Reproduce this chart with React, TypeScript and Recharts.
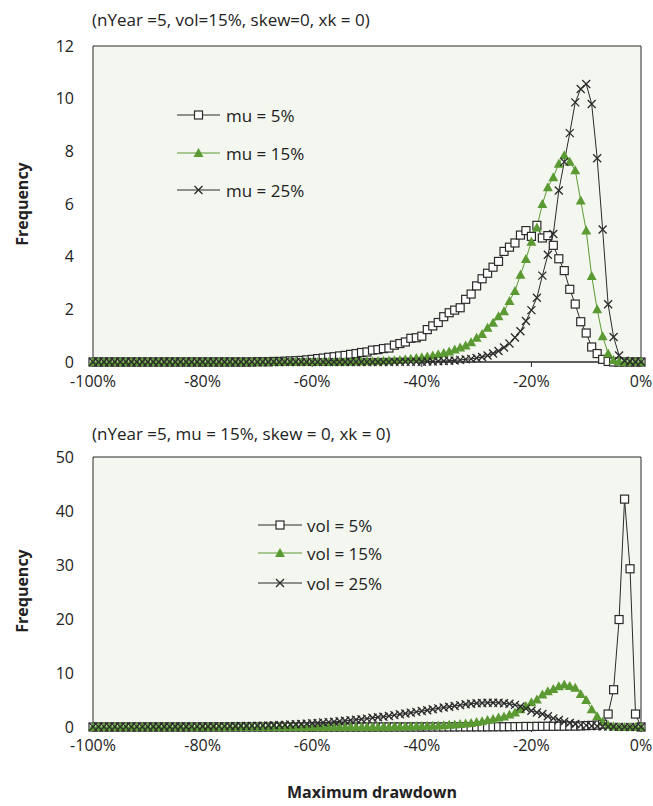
import React from 'react';
import { LineChart, Line, XAxis, YAxis, ReferenceArea } from 'recharts';

// Maximum drawdown categories (%), -100 .. 0 in 1% buckets
const drawdown = [
  -100, -99, -98, -97, -96, -95, -94, -93, -92, -91,
  -90, -89, -88, -87, -86, -85, -84, -83, -82, -81,
  -80, -79, -78, -77, -76, -75, -74, -73, -72, -71,
  -70, -69, -68, -67, -66, -65, -64, -63, -62, -61,
  -60, -59, -58, -57, -56, -55, -54, -53, -52, -51,
  -50, -49, -48, -47, -46, -45, -44, -43, -42, -41,
  -40, -39, -38, -37, -36, -35, -34, -33, -32, -31,
  -30, -29, -28, -27, -26, -25, -24, -23, -22, -21,
  -20, -19, -18, -17, -16, -15, -14, -13, -12, -11,
  -10, -9, -8, -7, -6, -5, -4, -3, -2, -1, 0,
];

// Top panel: nYear=5, vol=15%
const mu5 = [
  0, 0, 0, 0, 0, 0, 0, 0, 0, 0,
  0, 0, 0, 0, 0, 0, 0, 0, 0, 0,
  0, 0, 0, 0, 0, 0, 0, 0, 0, 0,
  0.01, 0.01, 0.01, 0.02, 0.02, 0.03, 0.04, 0.05, 0.06, 0.08,
  0.1, 0.13, 0.15, 0.18, 0.2, 0.23, 0.25, 0.29, 0.32, 0.36,
  0.38, 0.45, 0.47, 0.51, 0.53, 0.64, 0.7, 0.76, 0.9, 0.92,
  0.98, 1.23, 1.37, 1.5, 1.72, 1.87, 1.97, 2.06, 2.38, 2.58,
  2.89, 3.16, 3.37, 3.6, 3.82, 4.2, 4.36, 4.52, 4.82, 4.99,
  4.77, 5.19, 4.71, 4.8, 4.43, 3.92, 3.47, 2.76, 2.2, 1.53,
  1.1, 0.57, 0.32, 0.1, 0.02, 0, 0, 0, 0, 0, 0,
];
const mu15 = [
  0, 0, 0, 0, 0, 0, 0, 0, 0, 0,
  0, 0, 0, 0, 0, 0, 0, 0, 0, 0,
  0, 0, 0, 0, 0, 0, 0, 0, 0, 0,
  0, 0, 0, 0, 0, 0, 0, 0, 0, 0,
  0, 0, 0, 0, 0, 0.01, 0.01, 0.01, 0.02, 0.02,
  0.03, 0.03, 0.04, 0.05, 0.06, 0.07, 0.08, 0.1, 0.12, 0.15,
  0.18, 0.21, 0.25, 0.29, 0.34, 0.4, 0.47, 0.55, 0.63, 0.75,
  0.92, 1.06, 1.3, 1.49, 1.74, 1.93, 2.32, 2.7, 3.31, 3.91,
  4.57, 5.11, 6.0, 6.64, 7.02, 7.53, 7.85, 7.6, 7.28, 6.13,
  4.99, 3.27, 2.0, 0.98, 0.32, 0.08, 0.02, 0, 0, 0, 0,
];
const mu25 = [
  0, 0, 0, 0, 0, 0, 0, 0, 0, 0,
  0, 0, 0, 0, 0, 0, 0, 0, 0, 0,
  0, 0, 0, 0, 0, 0, 0, 0, 0, 0,
  0, 0, 0, 0, 0, 0, 0, 0, 0, 0,
  0, 0, 0, 0, 0, 0, 0, 0, 0, 0,
  0, 0, 0, 0, 0, 0.01, 0.01, 0.01, 0.01, 0.01,
  0.01, 0.02, 0.02, 0.03, 0.04, 0.05, 0.06, 0.08, 0.1, 0.12,
  0.15, 0.19, 0.25, 0.32, 0.42, 0.55, 0.7, 0.93, 1.17, 1.56,
  1.97, 2.44, 3.28, 4.07, 4.86, 6.51, 7.6, 8.69, 9.86, 10.37,
  10.56, 9.8, 7.74, 5.03, 2.19, 0.95, 0.25, 0.05, 0.01, 0, 0,
];

// Bottom panel: nYear=5, mu=15%
const vol5 = [
  0, 0, 0, 0, 0, 0, 0, 0, 0, 0,
  0, 0, 0, 0, 0, 0, 0, 0, 0, 0,
  0, 0, 0, 0, 0, 0, 0, 0, 0, 0,
  0, 0, 0, 0, 0, 0, 0, 0, 0, 0,
  0, 0, 0, 0, 0, 0, 0, 0, 0, 0,
  0, 0, 0, 0, 0, 0, 0, 0, 0, 0,
  0, 0, 0, 0, 0, 0.01, 0.01, 0.02, 0.01, 0.02,
  0.03, 0.02, 0.03, 0.04, 0.05, 0.04, 0.06, 0.07, 0.08, 0.1,
  0.09, 0.12, 0.11, 0.14, 0.13, 0.16, 0.15, 0.18, 0.17, 0.2,
  0.25, 0.3, 0.35, 0.5, 2.4, 6.9, 19.9, 42.2, 29.3, 2.4, 0,
];
const vol15 = [
  0, 0, 0, 0, 0, 0, 0, 0, 0, 0,
  0, 0, 0, 0, 0, 0, 0, 0, 0, 0,
  0, 0, 0, 0, 0, 0, 0, 0, 0, 0,
  0, 0, 0, 0, 0, 0, 0, 0, 0, 0,
  0, 0, 0, 0, 0, 0.01, 0.01, 0.01, 0.02, 0.02,
  0.03, 0.03, 0.04, 0.05, 0.06, 0.07, 0.08, 0.1, 0.12, 0.15,
  0.18, 0.21, 0.25, 0.29, 0.34, 0.4, 0.47, 0.55, 0.63, 0.75,
  0.92, 1.06, 1.3, 1.49, 1.74, 1.93, 2.32, 2.7, 3.31, 3.91,
  4.57, 5.11, 6.0, 6.64, 7.02, 7.53, 7.85, 7.6, 7.28, 6.13,
  4.99, 3.27, 2.0, 0.98, 0.32, 0.08, 0.02, 0, 0, 0, 0,
];
const vol25 = [
  0.02, 0.02, 0.02, 0.02, 0.03, 0.02, 0.03, 0.03, 0.03, 0.03,
  0.03, 0.04, 0.04, 0.05, 0.05, 0.05, 0.06, 0.06, 0.07, 0.07,
  0.08, 0.09, 0.1, 0.11, 0.12, 0.13, 0.15, 0.17, 0.19, 0.21,
  0.23, 0.26, 0.29, 0.32, 0.36, 0.4, 0.45, 0.5, 0.56, 0.62,
  0.68, 0.75, 0.82, 0.9, 0.97, 1.05, 1.15, 1.25, 1.35, 1.45,
  1.55, 1.7, 1.8, 1.9, 2.05, 2.2, 2.35, 2.5, 2.65, 2.8,
  2.95, 3.1, 3.3, 3.45, 3.6, 3.75, 3.9, 4.05, 4.2, 4.3,
  4.4, 4.45, 4.5, 4.5, 4.5, 4.4, 4.3, 4.1, 3.8, 3.4,
  3.0, 2.7, 2.4, 2.0, 1.6, 1.3, 1.0, 0.75, 0.55, 0.4,
  0.3, 0.2, 0.15, 0.1, 0.07, 0.04, 0.02, 0.01, 0, 0, 0,
];

const xTicks = [-100, -80, -60, -40, -20, 0];
const topYTicks = [0, 2, 4, 6, 8, 10, 12];
const bottomYTicks = [0, 10, 20, 30, 40, 50];
const topLabels = ['mu = 5%', 'mu = 15%', 'mu = 25%'];
const bottomLabels = ['vol = 5%', 'vol = 15%', 'vol = 25%'];
const topTitle = '(nYear =5, vol=15%, skew=0, xk = 0)';
const bottomTitle = '(nYear =5, mu = 15%, skew = 0, xk = 0)';

const FONT = '"Open Sans", "Noto Sans", sans-serif';
const DARK = '#2b2b2b';
const GREEN = '#5b9a32';
const BG = '#f4f7f0';

const topData = drawdown.map((x, i) => ({ x, a: mu5[i], b: mu15[i], c: mu25[i] }));
const bottomData = drawdown.map((x, i) => ({ x, a: vol5[i], b: vol15[i], c: vol25[i] }));

const SQ = 4;
const TR = 5;
const CR = 4;

const SquareDot = (p: any) => {
  if (p.cx == null || p.cy == null) return <g key={`s${p.index}`} />;
  return (
    <rect key={`s${p.index}`} x={p.cx - SQ} y={p.cy - SQ} width={SQ * 2} height={SQ * 2}
      fill="#fff" stroke={DARK} strokeWidth={1.2} />
  );
};
const TriDot = (p: any) => {
  if (p.cx == null || p.cy == null) return <g key={`t${p.index}`} />;
  const { cx, cy } = p;
  return (
    <path key={`t${p.index}`} d={`M${cx},${cy - TR}L${cx + TR},${cy + TR - 1}L${cx - TR},${cy + TR - 1}Z`}
      fill={GREEN} />
  );
};
const CrossDot = (p: any) => {
  if (p.cx == null || p.cy == null) return <g key={`c${p.index}`} />;
  const { cx, cy } = p;
  return (
    <path key={`c${p.index}`} d={`M${cx - CR},${cy - CR}L${cx + CR},${cy + CR}M${cx + CR},${cy - CR}L${cx - CR},${cy + CR}`}
      stroke={DARK} strokeWidth={1.3} fill="none" />
  );
};

const tickStyle = { fontSize: 16, fill: '#222', fontFamily: FONT };

function Panel({ data, yMax, yTicks, height, top, xAxisHeight, tickMargin }: any) {
  return (
    <LineChart width={653} height={height} data={data}
      margin={{ top, right: 12, bottom: 0, left: 0 }}>
      <XAxis dataKey="x" type="number" domain={[-100, 0]} ticks={xTicks}
        tickFormatter={(v: number) => `${v}%`} tick={tickStyle}
        axisLine={{ stroke: DARK }} tickLine={{ stroke: DARK }} tickSize={5}
        tickMargin={tickMargin} height={xAxisHeight} interval={0} />
      <YAxis type="number" domain={[0, yMax]} ticks={yTicks} tick={tickStyle}
        axisLine={false} tickLine={false} width={93} tickMargin={13} interval={0} />
      <ReferenceArea x1={-100} x2={0} y1={0} y2={yMax} fill={BG} fillOpacity={1}
        stroke={DARK} strokeOpacity={1} strokeWidth={1} />
      <Line dataKey="a" type="linear" stroke={DARK} strokeWidth={1} dot={SquareDot}
        activeDot={false} isAnimationActive={false} />
      <Line dataKey="b" type="linear" stroke={GREEN} strokeWidth={1} dot={TriDot}
        activeDot={false} isAnimationActive={false} />
      <Line dataKey="c" type="linear" stroke={DARK} strokeWidth={1} dot={CrossDot}
        activeDot={false} isAnimationActive={false} />
    </LineChart>
  );
}

function LegendBox({ labels, lineX1, lineX2, textX, ys }: any) {
  const mx = (lineX1 + lineX2) / 2;
  const markers = [
    (y: number) => <rect x={mx - SQ} y={y - SQ} width={SQ * 2} height={SQ * 2} fill="#fff" stroke={DARK} strokeWidth={1.2} />,
    (y: number) => <path d={`M${mx},${y - TR}L${mx + TR},${y + TR - 1}L${mx - TR},${y + TR - 1}Z`} fill={GREEN} />,
    (y: number) => <path d={`M${mx - CR},${y - CR}L${mx + CR},${y + CR}M${mx + CR},${y - CR}L${mx - CR},${y + CR}`} stroke={DARK} strokeWidth={1.3} />,
  ];
  const colors = [DARK, GREEN, DARK];
  return (
    <>
      {labels.map((lab: string, i: number) => (
        <g key={lab}>
          <line x1={lineX1} x2={lineX2} y1={ys[i]} y2={ys[i]} stroke={colors[i]} strokeWidth={1} />
          {markers[i](ys[i])}
          <text x={textX} y={ys[i]} dominantBaseline="central" fontSize={17} fill="#222" fontFamily={FONT}>{lab}</text>
        </g>
      ))}
    </>
  );
}

export default function App() {
  const textBase: React.CSSProperties = {
    position: 'absolute', fontFamily: FONT, color: '#222', whiteSpace: 'nowrap', lineHeight: 1,
  };
  return (
    <div style={{ position: 'absolute', left: 0, top: 0, width: 653, height: 806, background: '#fff', overflow: 'hidden' }}>
      <div style={{ position: 'absolute', left: 0, top: 0 }}>
        <Panel data={topData} yMax={12} yTicks={topYTicks} height={400} top={46} xAxisHeight={38} tickMargin={9} />
      </div>
      <div style={{ position: 'absolute', left: 0, top: 400 }}>
        <Panel data={bottomData} yMax={50} yTicks={bottomYTicks} height={370} top={57} xAxisHeight={43} tickMargin={8} />
      </div>
      <svg width={653} height={806} style={{ position: 'absolute', left: 0, top: 0, pointerEvents: 'none' }}>
        <LegendBox labels={topLabels} lineX1={177} lineX2={220} textX={226} ys={[115, 153, 190]} />
        <LegendBox labels={bottomLabels} lineX1={258} lineX2={302} textX={307} ys={[525, 553, 583]} />
      </svg>
      <div style={{ ...textBase, left: 92, top: 11, fontSize: 17 }}>{topTitle}</div>
      <div style={{ ...textBase, left: 92, top: 425, fontSize: 17 }}>{bottomTitle}</div>
      <div style={{ ...textBase, left: 22, top: 204, fontSize: 16, fontWeight: 700, transform: 'translate(-50%, -50%) rotate(-90deg)' }}>Frequency</div>
      <div style={{ ...textBase, left: 22, top: 591, fontSize: 16, fontWeight: 700, transform: 'translate(-50%, -50%) rotate(-90deg)' }}>Frequency</div>
      <div style={{ ...textBase, left: 372, top: 784, fontSize: 16, fontWeight: 700, transform: 'translateX(-50%)' }}>Maximum drawdown</div>
    </div>
  );
}
